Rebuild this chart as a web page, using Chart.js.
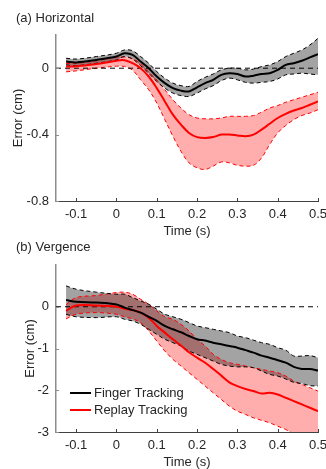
<!DOCTYPE html>
<html>
<head>
<meta charset="utf-8">
<script src="https://cdn.jsdelivr.net/npm/chart.js@4.4.1/dist/chart.umd.min.js"></script>
<style>
  html, body { margin: 0; padding: 0; background: #fff; }
  #wrap { position: relative; width: 326px; height: 469px; }
  .panel { position: absolute; left: 0; width: 326px; }
</style>
</head>
<body>
<div id="wrap">
  <div class="panel" style="top:0;height:238px"><canvas id="horizChart"></canvas></div>
  <div class="panel" style="top:238px;height:231px"><canvas id="vergChart"></canvas></div>
</div>
<script>
// ---- data ----
const time = [-0.125, -0.1, -0.05, 0, 0.02, 0.04, 0.06, 0.08, 0.1, 0.12, 0.14, 0.16, 0.18, 0.2,
  0.22, 0.24, 0.26, 0.28, 0.3, 0.32, 0.34, 0.36, 0.38, 0.4, 0.42, 0.44, 0.46, 0.48, 0.5];

// (a) Horizontal
const hFingerMean = [0.04, 0.035, 0.05, 0.07, 0.09, 0.08, 0.04, 0.0, -0.05, -0.09, -0.12, -0.135, -0.14, -0.115,
  -0.09, -0.07, -0.04, -0.03, -0.035, -0.05, -0.045, -0.035, -0.03, -0.01, 0.02, 0.03, 0.045, 0.065, 0.085];
const hFingerUpper = [0.06, 0.055, 0.07, 0.09, 0.11, 0.105, 0.07, 0.03, -0.02, -0.06, -0.09, -0.105, -0.11, -0.08,
  -0.055, -0.035, -0.01, 0.0, 0.0, -0.01, -0.005, 0.01, 0.02, 0.04, 0.07, 0.09, 0.11, 0.14, 0.18];
const hFingerLower = [0.02, 0.015, 0.03, 0.05, 0.07, 0.055, 0.015, -0.03, -0.08, -0.12, -0.15, -0.165, -0.17, -0.15,
  -0.125, -0.105, -0.075, -0.06, -0.07, -0.085, -0.09, -0.085, -0.08, -0.065, -0.04, -0.035, -0.03, -0.035, -0.04];
const hReplayMean = [0.01, 0.012, 0.025, 0.045, 0.048, 0.03, 0.0, -0.05, -0.12, -0.2, -0.28, -0.34, -0.39, -0.415,
  -0.42, -0.415, -0.4, -0.4, -0.405, -0.41, -0.4, -0.37, -0.335, -0.3, -0.275, -0.255, -0.24, -0.22, -0.2];
const hReplayUpper = [0.028, 0.03, 0.045, 0.068, 0.068, 0.058, 0.028, -0.02, -0.07, -0.13, -0.19, -0.24, -0.28, -0.3,
  -0.305, -0.305, -0.3, -0.29, -0.29, -0.29, -0.285, -0.265, -0.24, -0.225, -0.205, -0.19, -0.175, -0.16, -0.145];
const hReplayLower = [-0.022, -0.016, 0.0, 0.012, 0.01, -0.012, -0.07, -0.13, -0.21, -0.31, -0.41, -0.5, -0.57, -0.6,
  -0.61, -0.59, -0.565, -0.57, -0.585, -0.59, -0.585, -0.54, -0.46, -0.39, -0.345, -0.31, -0.285, -0.27, -0.25];

// (b) Vergence
const vFingerMean = [0.16, 0.12, 0.1, 0.055, -0.02, -0.08, -0.14, -0.24, -0.34, -0.46, -0.54, -0.61, -0.7, -0.78,
  -0.81, -0.86, -0.9, -0.94, -0.98, -1.04, -1.1, -1.17, -1.22, -1.28, -1.34, -1.44, -1.49, -1.49, -1.53];
const vFingerUpper = [0.5, 0.42, 0.35, 0.3, 0.3, 0.22, 0.14, 0.06, -0.06, -0.18, -0.24, -0.3, -0.38, -0.46,
  -0.5, -0.54, -0.58, -0.62, -0.7, -0.74, -0.8, -0.86, -0.9, -0.98, -1.04, -1.18, -1.18, -1.17, -1.22];
const vFingerLower = [-0.18, -0.24, -0.26, -0.24, -0.3, -0.34, -0.42, -0.54, -0.66, -0.78, -0.86, -0.94, -1.06, -1.14,
  -1.22, -1.3, -1.38, -1.42, -1.44, -1.44, -1.46, -1.54, -1.62, -1.66, -1.73, -1.81, -1.84, -1.89, -1.9];
const vReplayMean = [-0.1, 0.03, 0.03, 0.0, -0.05, -0.08, -0.14, -0.26, -0.46, -0.62, -0.78, -0.93, -1.09, -1.22,
  -1.34, -1.49, -1.65, -1.81, -1.9, -1.97, -2.02, -2.08, -2.06, -2.1, -2.18, -2.26, -2.34, -2.42, -2.5];
const vReplayUpper = [0.05, 0.22, 0.27, 0.34, 0.35, 0.3, 0.18, 0.06, -0.1, -0.24, -0.3, -0.42, -0.58, -0.78,
  -0.94, -1.14, -1.26, -1.34, -1.38, -1.42, -1.46, -1.5, -1.54, -1.58, -1.66, -1.78, -1.86, -1.94, -2.02];
const vReplayLower = [-0.29, -0.18, -0.14, -0.18, -0.24, -0.29, -0.38, -0.58, -0.82, -1.06, -1.26, -1.42, -1.58, -1.74,
  -1.9, -2.06, -2.22, -2.38, -2.5, -2.58, -2.66, -2.72, -2.78, -2.86, -2.94, -3.04, -3.1, -3.15, -3.2];

const zeroX = [-0.15, 0.5];
const zeroY = [0, 0];

const xTicks = [-0.1, 0, 0.1, 0.2, 0.3, 0.4, 0.5];
const hYTicks = [-0.8, -0.4, 0];
const vYTicks = [-3, -2, -1, 0];

const TXT = "#262626";
const FONT = "'Liberation Sans', Arial, sans-serif";
Chart.defaults.font.family = FONT;
Chart.defaults.font.size = 13;
Chart.defaults.color = TXT;

function pts(xs, ys) {
  return ys.map((y, i) => ({ x: xs[i], y: y }));
}

// short tick marks drawn inside the axes (MATLAB style)
const innerTicks = {
  id: "innerTicks",
  afterDraw(chart) {
    const ctx = chart.ctx, a = chart.chartArea;
    const xs = chart.scales.x, ys = chart.scales.y;
    ctx.save();
    ctx.lineWidth = 1;
    ctx.strokeStyle = "#404040";
    xs.ticks.forEach(t => {
      const px = Math.round(xs.getPixelForValue(t.value)) + 0.5;
      ctx.beginPath(); ctx.moveTo(px, a.bottom); ctx.lineTo(px, a.bottom - 3); ctx.stroke();
    });
    ctx.strokeStyle = "#8c8c8c";
    ys.ticks.forEach(t => {
      const py = Math.round(ys.getPixelForValue(t.value)) + 0.5;
      ctx.beginPath(); ctx.moveTo(a.left, py); ctx.lineTo(a.left + 3, py); ctx.stroke();
    });
    ctx.restore();
  }
};

// legend drawn inside the plot, lower-left
const innerLegend = {
  id: "innerLegend",
  afterDatasetsDraw(chart, args, opts) {
    if (!opts.display) return;
    const ctx = chart.ctx, a = chart.chartArea;
    const items = chart.data.datasets.filter(d => d.inLegend);
    ctx.save();
    ctx.font = "13px " + FONT;
    ctx.textBaseline = "middle";
    items.forEach((d, i) => {
      const y = a.bottom - 22 - (items.length - 1 - i) * 17;
      ctx.strokeStyle = d.borderColor;
      ctx.lineWidth = 2;
      ctx.beginPath(); ctx.moveTo(a.left + 14, y); ctx.lineTo(a.left + 35, y); ctx.stroke();
      ctx.fillStyle = TXT;
      ctx.fillText(d.label, a.left + 38, y);
    });
    ctx.restore();
  }
};

function makeChart(canvas, cfg) {
  const datasets = [
    { label: "Finger Tracking", inLegend: true, data: pts(time, cfg.fMean), borderColor: "#000000", borderWidth: 2 },
    { label: "Replay Tracking", inLegend: true, data: pts(time, cfg.rMean), borderColor: "#ff0000", borderWidth: 2 },
    { label: "zero", data: pts(zeroX, zeroY), borderColor: "#000000", borderWidth: 1, borderDash: [5, 4], tension: 0 },
    { label: "finger lo", data: pts(time, cfg.fLo), borderColor: "#000000", borderWidth: 1, borderDash: [4, 3] },
    { label: "finger hi", data: pts(time, cfg.fHi), borderColor: "#000000", borderWidth: 1, borderDash: [4, 3],
      fill: "-1", backgroundColor: "rgba(0,0,0,0.36)" },
    { label: "replay lo", data: pts(time, cfg.rLo), borderColor: "#ff0000", borderWidth: 1, borderDash: [4, 3] },
    { label: "replay hi", data: pts(time, cfg.rHi), borderColor: "#ff0000", borderWidth: 1, borderDash: [4, 3],
      fill: "-1", backgroundColor: "rgba(255,0,0,0.32)" }
  ];

  return new Chart(canvas, {
    type: "line",
    data: { datasets },
    options: {
      responsive: true,
      maintainAspectRatio: false,
      animation: false,
      events: [],
      layout: { padding: { left: 16, right: 8, top: 0, bottom: 0 } },
      elements: {
        point: { radius: 0 },
        line: { tension: 0.35, fill: false }
      },
      scales: {
        x: {
          type: "linear",
          min: -0.15, max: 0.5,
          afterBuildTicks: s => { s.ticks = xTicks.map(v => ({ value: v })); },
          afterFit: s => { s.height = 37; s.paddingRight = 0; s.paddingLeft = 0; },
          grid: { display: false, drawTicks: false },
          border: { display: true, color: "#404040", width: 1 },
          ticks: { padding: 6, color: TXT, callback: v => String(v) },
          title: { display: true, text: "Time (s)", color: TXT,
            font: { size: 13, lineHeight: 1 }, padding: { top: 0, bottom: 0 } }
        },
        y: {
          type: "linear",
          min: cfg.yMin, max: cfg.yMax,
          afterBuildTicks: s => { s.ticks = cfg.yTicks.map(v => ({ value: v })); },
          afterFit: s => { s.width = 40; },
          grid: { display: false, drawTicks: false },
          border: { display: true, color: "#8c8c8c", width: 1.5 },
          ticks: { padding: 7, color: TXT, callback: v => String(v) },
          title: { display: true, text: "Error (cm)", color: TXT,
            font: { size: 13, lineHeight: 1 }, padding: { top: cfg.yTitlePad, bottom: 0 } }
        }
      },
      plugins: {
        legend: { display: false },
        tooltip: { enabled: false },
        filler: { drawTime: "beforeDatasetsDraw" },
        title: {
          display: true, text: cfg.title, align: "start", color: TXT,
          font: { size: 13, weight: "normal" },
          padding: cfg.titlePad
        },
        innerLegend: { display: cfg.legend }
      }
    },
    plugins: [innerTicks, innerLegend]
  });
}

makeChart(document.getElementById("horizChart"), {
  title: "(a) Horizontal", titlePad: { top: 11, bottom: 8.4 },
  fMean: hFingerMean, fHi: hFingerUpper, fLo: hFingerLower,
  rMean: hReplayMean, rHi: hReplayUpper, rLo: hReplayLower,
  yMin: -0.8, yMax: 0.2, yTicks: hYTicks, yTitlePad: -4.5, legend: false
});

makeChart(document.getElementById("vergChart"), {
  title: "(b) Vergence", titlePad: { top: 1.2, bottom: 10.2 },
  fMean: vFingerMean, fHi: vFingerUpper, fLo: vFingerLower,
  rMean: vReplayMean, rHi: vReplayUpper, rLo: vReplayLower,
  yMin: -3, yMax: 1, yTicks: vYTicks, yTitlePad: 7.5, legend: true
});
</script>
</body>
</html>
